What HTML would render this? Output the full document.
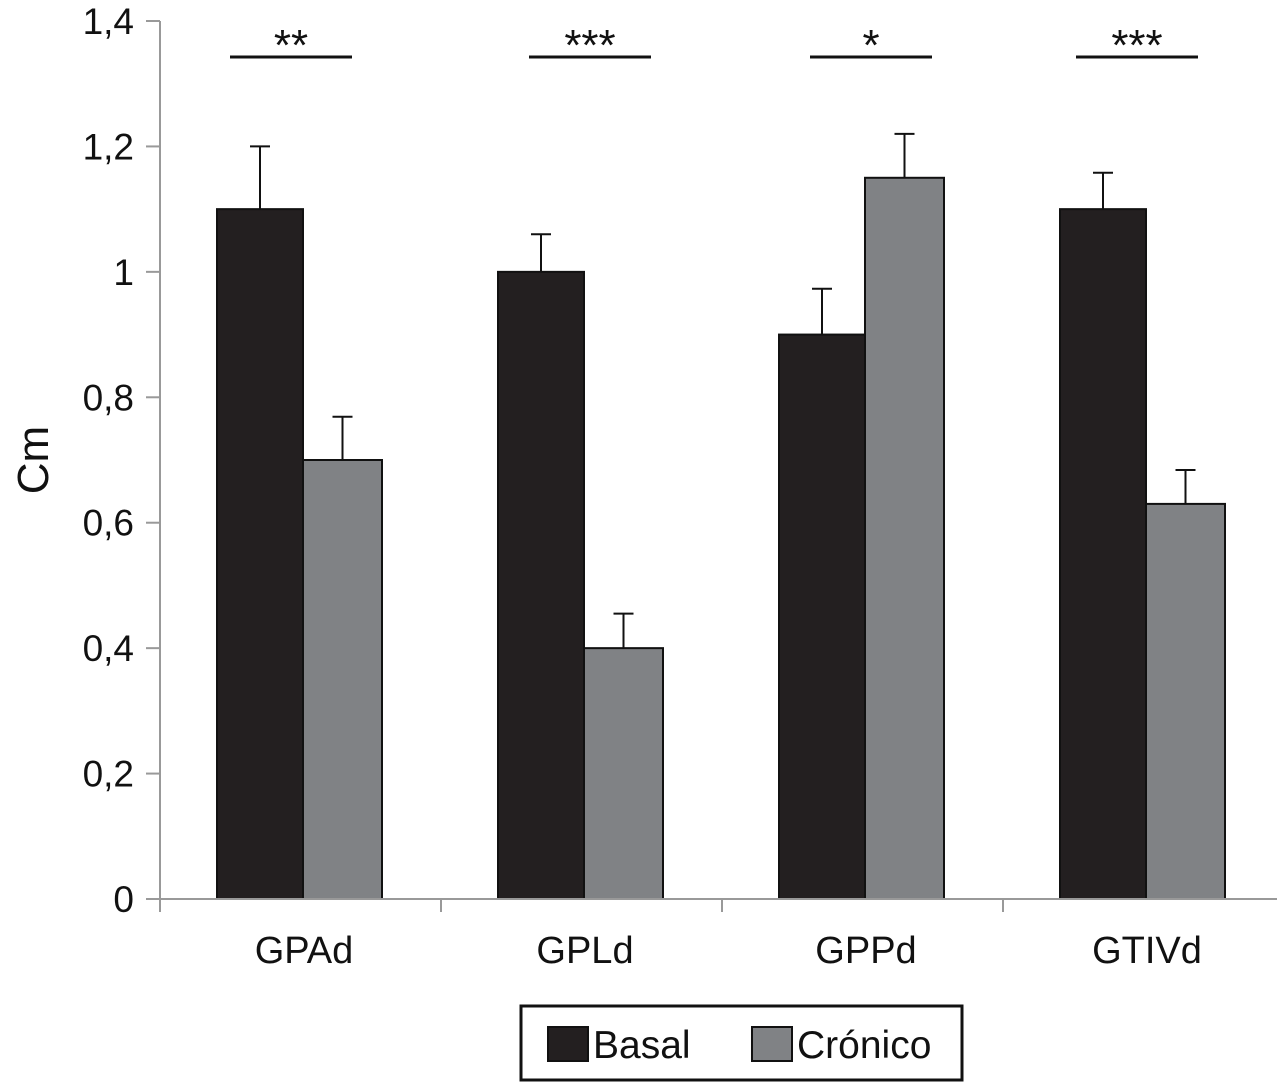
<!DOCTYPE html>
<html><head><meta charset="utf-8"><style>body{margin:0;background:#fff}svg{display:block;font-family:"Liberation Sans",sans-serif}</style></head>
<body>
<svg id="chart" width="1283" height="1083" viewBox="0 0 1283 1083"></svg>
<script>
const categories=["GPAd","GPLd","GPPd","GTIVd"];
const basal=[1.1,1.0,0.9,1.1];
const basalErr=[0.1,0.06,0.073,0.058];
const cronico=[0.7,0.4,1.15,0.63];
const cronicoErr=[0.069,0.055,0.07,0.054];
const stars=["**","***","*","***"];
const yTicks=[0,0.2,0.4,0.6,0.8,1,1.2,1.4];
const yTickLabels=["0","0,2","0,4","0,6","0,8","1","1,2","1,4"];
const svg=document.getElementById('chart');
const NS='http://www.w3.org/2000/svg';
const x0=160,x1=1277,y0=899,y1=21;
const y=v=>y0-(v/1.4)*(y0-y1);
const catW=281;
const sigShift=[0,18,18,3];
function el(t,a,txt){const e=document.createElementNS(NS,t);for(const k in a)e.setAttribute(k,a[k]);if(txt!=null)e.textContent=txt;svg.appendChild(e);return e;}
let e;
e=el('line',{x1:x0,y1:y1,x2:x0,y2:y0,stroke:'#999','stroke-width':2});

yTicks.forEach((v,i)=>{
 e=el('line',{x1:x0-14,y1:y(v),x2:x0,y2:y(v),stroke:'#999','stroke-width':2});
 
 e=el('text',{x:x0-26,y:y(v)+13,'text-anchor':'end','font-size':37,fill:'#111'},yTickLabels[i]);
 
});
e=el('text',{x:48,y:460,'text-anchor':'middle','font-size':44,fill:'#111',transform:'rotate(-90 48 460)'},'Cm');

categories.forEach((c,i)=>{
 const cx=x0+catW*i;
 e=el('line',{x1:cx+catW,y1:y0,x2:cx+catW,y2:y0+13,stroke:'#999','stroke-width':2});
 
 const bx=cx+57,bw=86,cw=79;
 e=el('rect',{x:bx,y:y(basal[i]),width:bw,height:y0-y(basal[i]),fill:'#231f20',stroke:'#111','stroke-width':2});
 
 e=el('rect',{x:bx+bw,y:y(cronico[i]),width:cw,height:y0-y(cronico[i]),fill:'#808285',stroke:'#111','stroke-width':2});
 
 [[bx+bw/2,basal[i],basalErr[i]],[bx+bw+cw/2,cronico[i],cronicoErr[i]]].forEach(([ex,v,er])=>{
  e=el('path',{d:`M${ex},${y(v)}V${y(v+er)}M${ex-10},${y(v+er)}H${ex+10}`,stroke:'#111','stroke-width':2,fill:'none'});
  
 });
 const sx=cx+70+sigShift[i];
 e=el('line',{x1:sx,y1:57,x2:sx+122,y2:57,stroke:'#111','stroke-width':3});
 
 e=el('text',{x:sx+61,y:60,'text-anchor':'middle','font-size':44,fill:'#111'},stars[i]);
 
 e=el('text',{x:cx+144,y:963,'text-anchor':'middle','font-size':38,fill:'#111'},c);
 
});
e=el('line',{x1:x0,y1:y0,x2:x1,y2:y0,stroke:'#999','stroke-width':2});

e=el('line',{x1:x0,y1:y0,x2:x0,y2:y0+13,stroke:'#999','stroke-width':2});

e=el('rect',{x:521,y:1006,width:441,height:74,fill:'#fff',stroke:'#111','stroke-width':3});

e=el('rect',{x:548,y:1027,width:40,height:34,fill:'#231f20',stroke:'#111','stroke-width':2});

e=el('text',{x:593,y:1058,'font-size':39,fill:'#111'},'Basal');

e=el('rect',{x:752,y:1027,width:40,height:34,fill:'#808285',stroke:'#111','stroke-width':2});

e=el('text',{x:797,y:1058,'font-size':39,fill:'#111'},'Crónico');

</script>
</body></html>
